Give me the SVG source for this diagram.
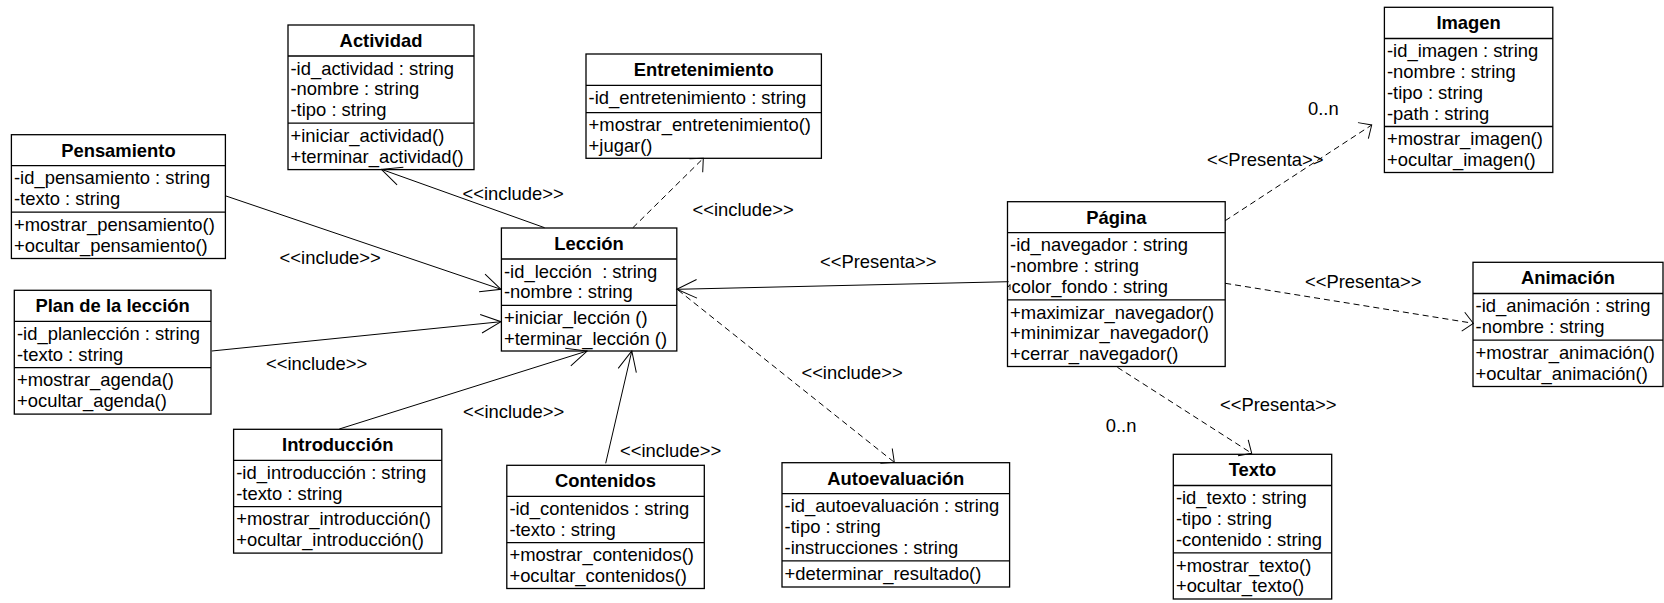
<svg xmlns="http://www.w3.org/2000/svg" width="1664" height="603" viewBox="0 0 1664 603">
  <style>
    .box { fill: #fff; stroke: #000; stroke-width: 1.3; }
    .sep { stroke: #000; stroke-width: 1.3; }
    text { font-family: "Liberation Sans", Arial, sans-serif; font-size: 18.4px; fill: #000; white-space: pre; }
    .title { font-weight: bold; text-anchor: middle; }
    .conn { fill: none; stroke: #000; stroke-width: 1; }
    .dash { stroke-dasharray: 6 4; }
  </style>
  <defs>
    <!-- open arrowhead for solid include lines -->
    <marker id="arrowSolid" markerUnits="userSpaceOnUse" viewBox="-25 -15 30 30" markerWidth="30" markerHeight="30" refX="0" refY="0" orient="auto" overflow="visible">
      <path d="M-20,-9.3 L0,0 L-20,9.3" fill="none" stroke="#000" stroke-width="1" stroke-dasharray="none"/>
    </marker>
    <!-- smaller, wider open arrowhead for dashed dependencies -->
    <marker id="arrowDash" markerUnits="userSpaceOnUse" viewBox="-25 -15 30 30" markerWidth="30" markerHeight="30" refX="0" refY="0" orient="auto" overflow="visible">
      <path d="M-10.2,-9.5 L0,0 L-10.2,9.5" fill="none" stroke="#000" stroke-width="1" stroke-dasharray="none"/>
    </marker>
  </defs>

  <rect width="1664" height="603" fill="#fff"/>

  <g id="actividad">
    <rect class="box" x="288" y="25" width="186" height="144.6"/>
    <line class="sep" x1="288" y1="56" x2="474" y2="56"/>
    <line class="sep" x1="288" y1="123.2" x2="474" y2="123.2"/>
    <text class="title" x="381" y="47">Actividad</text>
    <text x="290.5" y="74.6">-id_actividad : string</text>
    <text x="290.5" y="95.4">-nombre : string</text>
    <text x="290.5" y="116.2">-tipo : string</text>
    <text x="290.5" y="141.8">+iniciar_actividad()</text>
    <text x="290.5" y="162.6">+terminar_actividad()</text>
  </g>

  <g id="pensamiento">
    <rect class="box" x="11.4" y="134.7" width="214" height="123.8"/>
    <line class="sep" x1="11.4" y1="165.7" x2="225.4" y2="165.7"/>
    <line class="sep" x1="11.4" y1="212.1" x2="225.4" y2="212.1"/>
    <text class="title" x="118.4" y="156.7">Pensamiento</text>
    <text x="14" y="184.3">-id_pensamiento : string</text>
    <text x="14" y="205.1">-texto : string</text>
    <text x="14" y="230.7">+mostrar_pensamiento()</text>
    <text x="14" y="251.5">+ocultar_pensamiento()</text>
  </g>

  <g id="plan-leccion">
    <rect class="box" x="14.3" y="290.3" width="196.7" height="123.8"/>
    <line class="sep" x1="14.3" y1="321.3" x2="211" y2="321.3"/>
    <line class="sep" x1="14.3" y1="367.7" x2="211" y2="367.7"/>
    <text class="title" x="112.6" y="312.3">Plan de la lección</text>
    <text x="17" y="339.9">-id_planlección : string</text>
    <text x="17" y="360.7">-texto : string</text>
    <text x="17" y="386.3">+mostrar_agenda()</text>
    <text x="17" y="407.1">+ocultar_agenda()</text>
  </g>

  <g id="introduccion">
    <rect class="box" x="233.6" y="429.3" width="208.2" height="123.8"/>
    <line class="sep" x1="233.6" y1="460.3" x2="441.8" y2="460.3"/>
    <line class="sep" x1="233.6" y1="506.7" x2="441.8" y2="506.7"/>
    <text class="title" x="337.7" y="451.3">Introducción</text>
    <text x="236.2" y="478.9">-id_introducción : string</text>
    <text x="236.2" y="499.7">-texto : string</text>
    <text x="236.2" y="525.3">+mostrar_introducción()</text>
    <text x="236.2" y="546.1">+ocultar_introducción()</text>
  </g>

  <g id="entretenimiento">
    <rect class="box" x="586" y="54" width="235.4" height="104.3"/>
    <line class="sep" x1="586" y1="85.3" x2="821.4" y2="85.3"/>
    <line class="sep" x1="586" y1="112.7" x2="821.4" y2="112.7"/>
    <text class="title" x="703.7" y="76">Entretenimiento</text>
    <text x="588.6" y="104.2">-id_entretenimiento : string</text>
    <text x="588.6" y="131.3">+mostrar_entretenimiento()</text>
    <text x="588.6" y="152">+jugar()</text>
  </g>

  <g id="leccion">
    <rect class="box" x="501.4" y="228" width="175.4" height="123"/>
    <line class="sep" x1="501.4" y1="259" x2="676.8" y2="259"/>
    <line class="sep" x1="501.4" y1="305.4" x2="676.8" y2="305.4"/>
    <text class="title" x="589.1" y="250">Lección</text>
    <text x="504" y="277.6">-id_lección  : string</text>
    <text x="504" y="298.4">-nombre : string</text>
    <text x="504" y="324">+iniciar_lección ()</text>
    <text x="504" y="344.6">+terminar_lección ()</text>
  </g>

  <g id="contenidos">
    <rect class="box" x="506.8" y="465.3" width="197.5" height="123.2"/>
    <line class="sep" x1="506.8" y1="496.3" x2="704.3" y2="496.3"/>
    <line class="sep" x1="506.8" y1="542.7" x2="704.3" y2="542.7"/>
    <text class="title" x="605.5" y="487.3">Contenidos</text>
    <text x="509.4" y="514.9">-id_contenidos : string</text>
    <text x="509.4" y="535.7">-texto : string</text>
    <text x="509.4" y="561.3">+mostrar_contenidos()</text>
    <text x="509.4" y="582">+ocultar_contenidos()</text>
  </g>

  <g id="autoevaluacion">
    <rect class="box" x="782" y="462.7" width="227.6" height="124.3"/>
    <line class="sep" x1="782" y1="493.7" x2="1009.6" y2="493.7"/>
    <line class="sep" x1="782" y1="560.9" x2="1009.6" y2="560.9"/>
    <text class="title" x="895.8" y="484.7">Autoevaluación</text>
    <text x="784.6" y="512.3">-id_autoevaluación : string</text>
    <text x="784.6" y="533.1">-tipo : string</text>
    <text x="784.6" y="553.9">-instrucciones : string</text>
    <text x="784.6" y="579.5">+determinar_resultado()</text>
  </g>

  <g id="pagina">
    <rect class="box" x="1007.5" y="201.7" width="217.7" height="164.8"/>
    <line class="sep" x1="1007.5" y1="232.7" x2="1225.2" y2="232.7"/>
    <line class="sep" x1="1007.5" y1="299.9" x2="1225.2" y2="299.9"/>
    <text class="title" x="1116.3" y="223.7">Página</text>
    <text x="1010.1" y="251.3">-id_navegador : string</text>
    <text x="1010.1" y="272.1">-nombre : string</text>
    <text x="1011.5" y="292.9">color_fondo : string</text>
    <path d="M1007.6,287.5 L1010,284.5 L1010,290" fill="none" stroke="#000" stroke-width="1"/>
    <text x="1010.1" y="318.5">+maximizar_navegador()</text>
    <text x="1010.1" y="339.3">+minimizar_navegador()</text>
    <text x="1010.1" y="360.1">+cerrar_navegador()</text>
  </g>

  <g id="imagen">
    <rect class="box" x="1384.4" y="7.3" width="168.4" height="165.2"/>
    <line class="sep" x1="1384.4" y1="38.5" x2="1552.8" y2="38.5"/>
    <line class="sep" x1="1384.4" y1="126.5" x2="1552.8" y2="126.5"/>
    <text class="title" x="1468.6" y="29.3">Imagen</text>
    <text x="1387" y="57.1">-id_imagen : string</text>
    <text x="1387" y="77.9">-nombre : string</text>
    <text x="1387" y="98.7">-tipo : string</text>
    <text x="1387" y="119.5">-path : string</text>
    <text x="1387" y="145.1">+mostrar_imagen()</text>
    <text x="1387" y="165.9">+ocultar_imagen()</text>
  </g>

  <g id="animacion">
    <rect class="box" x="1473" y="262.3" width="190" height="124.2"/>
    <line class="sep" x1="1473" y1="293.5" x2="1663" y2="293.5"/>
    <line class="sep" x1="1473" y1="340.1" x2="1663" y2="340.1"/>
    <text class="title" x="1568" y="284.3">Animación</text>
    <text x="1475.6" y="312.3">-id_animación : string</text>
    <text x="1475.6" y="333.1">-nombre : string</text>
    <text x="1475.6" y="358.7">+mostrar_animación()</text>
    <text x="1475.6" y="379.5">+ocultar_animación()</text>
  </g>

  <g id="texto">
    <rect class="box" x="1173.3" y="454.3" width="158.4" height="144.7"/>
    <line class="sep" x1="1173.3" y1="485.5" x2="1331.7" y2="485.5"/>
    <line class="sep" x1="1173.3" y1="552.9" x2="1331.7" y2="552.9"/>
    <text class="title" x="1252.5" y="476.3">Texto</text>
    <text x="1175.9" y="504.3">-id_texto : string</text>
    <text x="1175.9" y="525.1">-tipo : string</text>
    <text x="1175.9" y="545.9">-contenido : string</text>
    <text x="1175.9" y="571.5">+mostrar_texto()</text>
    <text x="1175.9" y="592.3">+ocultar_texto()</text>
  </g>

  <g id="connectors">
    <!-- include relations (solid) -->
    <line class="conn" x1="544.6" y1="227.7" x2="381.4" y2="169.3" marker-end="url(#arrowSolid)"/>
    <line class="conn" x1="226" y1="196" x2="501" y2="289.3" marker-end="url(#arrowSolid)"/>
    <line class="conn" x1="211.8" y1="351" x2="501" y2="321.7" marker-end="url(#arrowSolid)"/>
    <line class="conn" x1="339.3" y1="429" x2="587.1" y2="351" marker-end="url(#arrowSolid)"/>
    <line class="conn" x1="605.7" y1="463.3" x2="631.8" y2="351" marker-end="url(#arrowSolid)"/>
    <line class="conn" x1="1008.6" y1="281.7" x2="676.8" y2="289.3" marker-end="url(#arrowSolid)"/>
    <!-- dependencies (dashed) -->
    <line class="conn dash" x1="632.9" y1="227.7" x2="703.3" y2="158.3" marker-end="url(#arrowDash)"/>
    <line class="conn dash" x1="678" y1="290" x2="894.3" y2="462.3" marker-end="url(#arrowDash)"/>
    <line class="conn dash" x1="1225.2" y1="220.7" x2="1371.7" y2="125" marker-end="url(#arrowDash)"/>
    <line class="conn dash" x1="1225.2" y1="283.3" x2="1473.3" y2="323.3" marker-end="url(#arrowDash)"/>
    <line class="conn dash" x1="1117.4" y1="367.3" x2="1251.7" y2="453.3" marker-end="url(#arrowDash)"/>

    <!-- connector labels -->
    <text x="462.5" y="200">&lt;&lt;include&gt;&gt;</text>
    <text x="279.6" y="264">&lt;&lt;include&gt;&gt;</text>
    <text x="266" y="370">&lt;&lt;include&gt;&gt;</text>
    <text x="463" y="418">&lt;&lt;include&gt;&gt;</text>
    <text x="620" y="456.6">&lt;&lt;include&gt;&gt;</text>
    <text x="692.5" y="215.6">&lt;&lt;include&gt;&gt;</text>
    <text x="801.4" y="379.3">&lt;&lt;include&gt;&gt;</text>
    <text x="820" y="267.6">&lt;&lt;Presenta&gt;&gt;</text>
    <text x="1206.9" y="166">&lt;&lt;Presenta&gt;&gt;</text>
    <text x="1308" y="115">0..n</text>
    <text x="1305" y="287.6">&lt;&lt;Presenta&gt;&gt;</text>
    <text x="1220" y="410.6">&lt;&lt;Presenta&gt;&gt;</text>
    <text x="1105.7" y="432">0..n</text>
  </g>
</svg>
